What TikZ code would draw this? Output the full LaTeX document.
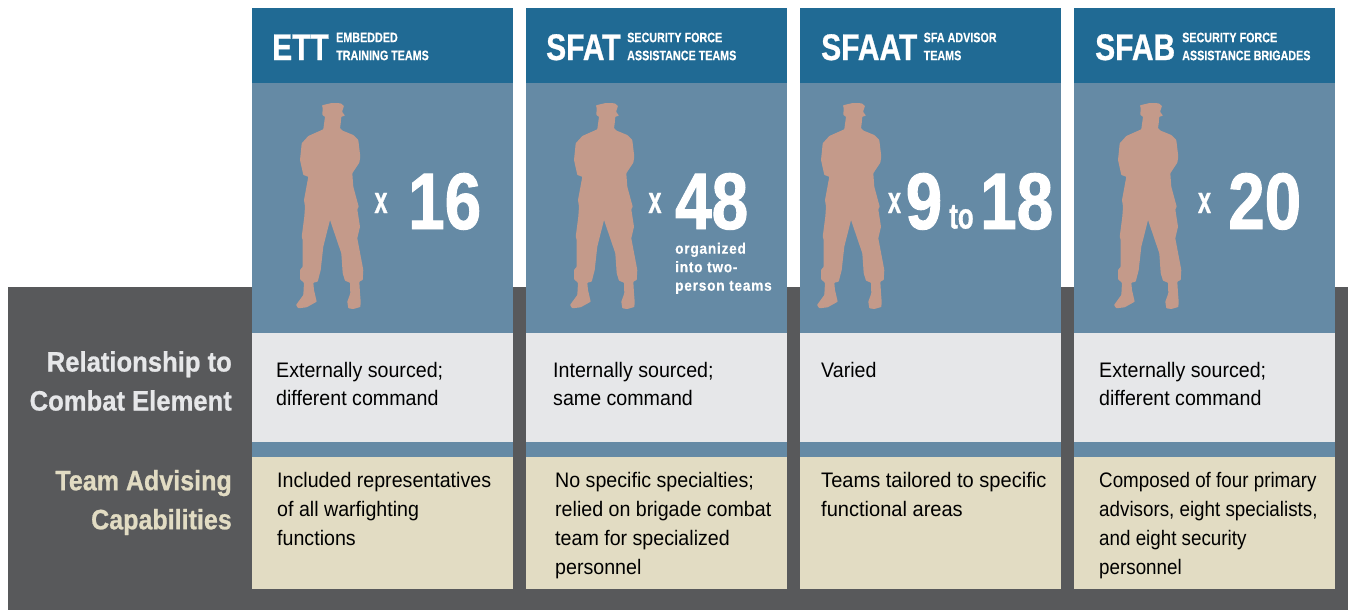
\documentclass[tikz,border=0pt]{standalone}
\usepackage{fontspec}
\setmainfont{Liberation Sans}
\newfontfamily\bodyf[FakeStretch=0.935]{Liberation Sans}
\newfontfamily\bodyn[FakeStretch=0.895]{Liberation Sans}
\newfontfamily\bodyw[FakeStretch=0.955]{Liberation Sans}
\newfontfamily\headf[FakeStretch=0.81,FakeBold=0.8]{Liberation Sans}
\newfontfamily\subf[FakeStretch=0.785,FakeBold=0.3]{Liberation Sans}
\newfontfamily\rowf[FakeStretch=0.915,FakeBold=0.8]{Liberation Sans}
\newfontfamily\rowg[FakeStretch=0.895,FakeBold=0.8]{Liberation Sans}
\newfontfamily\notef[FakeStretch=0.9,LetterSpace=5,FakeBold=0.3]{Liberation Sans}
\newfontfamily\numf[FakeStretch=0.82,FakeBold=1.2]{Liberation Sans}
\newfontfamily\xf[FakeStretch=0.62,FakeBold=0.5]{Liberation Sans}
\newfontfamily\tof[FakeStretch=0.72,FakeBold=0.8]{Liberation Sans}
\definecolor{hdr}{HTML}{206A94}
\definecolor{bodyb}{HTML}{658AA5}
\definecolor{greyb}{HTML}{E6E7E9}
\definecolor{tanb}{HTML}{E2DCC3}
\definecolor{darkb}{HTML}{58595B}
\definecolor{soldierc}{HTML}{C49A8A}
\tikzset{
  box/.style={anchor=north west,inner sep=0pt,outer sep=0pt,minimum width=261pt,text depth=0pt},
  hdrbox/.style={box,fill=hdr,minimum height=75pt},
  bodybox/.style={box,fill=bodyb,minimum height=250pt},
  greybox/.style={box,fill=greyb,minimum height=109pt},
  sepbox/.style={box,fill=bodyb,minimum height=15pt},
  tanbox/.style={box,fill=tanb,minimum height=132pt},
  abbr/.style={anchor=base west,inner sep=0pt,text=white,font=\headf\bfseries\fontsize{37}{37}\selectfont},
  sub/.style={anchor=west,inner sep=0pt,text=white,align=left,font=\subf\bfseries\fontsize{13.7}{18}\selectfont},
  times/.style={anchor=base,inner sep=0pt,text=white,font=\xf\bfseries\fontsize{38}{38}\selectfont},
  num/.style={anchor=base west,inner sep=0pt,text=white,font=\numf\bfseries\fontsize{80}{80}\selectfont},
  towd/.style={anchor=base west,inner sep=0pt,text=white,font=\tof\bfseries\fontsize{36}{36}\selectfont},
  note/.style={anchor=north west,inner sep=0pt,text=white,align=left,font=\notef\bfseries\fontsize{15.2}{18.5}\selectfont},
  txt/.style={anchor=north west,inner sep=0pt,text=black,align=left,font=\bodyf\fontsize{21}{#1}\selectfont},
  rowlab/.style={anchor=east,inner sep=0pt,align=right,font=\rowf\bfseries\fontsize{28}{39}\selectfont}
}
\newcommand{\soldier}[1]{%
  \fill[soldierc,shift={(#1,0)},rounded corners=0.6pt]
  (72,105.3) -- (81.7,103) -- (90.7,103.3) -- (94,106) -- (92,111.7) -- (95,115.7) -- (91.3,116.7) -- (90.7,123.3) -- (90,128.3) -- (92.7,130.7) -- (103.3,135) -- (108.3,140) -- (110.3,156.7) -- (109.3,162.7) -- (102.3,173.3) -- (103.3,186.7) -- (108.7,206.7) -- (107.3,209.3) -- (110,226.7) -- (107.3,238.3) -- (113.3,270) -- (112.7,280) -- (109.3,281.7) -- (110,293) -- (110.7,302) -- (110.3,307) -- (103.3,309) -- (98.3,308.3) -- (97.3,301.7) -- (100.3,293.3) -- (100,282.7) -- (95,280.7) -- (92.7,273.3) -- (91.3,253.3) -- (80,220) -- (73.3,246.7) -- (70.7,270) -- (67.7,281.7) -- (63.3,282.7) -- (64,290) -- (66.7,301.7) -- (56.7,307.3) -- (48.3,308.3) -- (46,305) -- (53.3,295) -- (54,282.7) -- (50,279.3) -- (50,270) -- (52.7,266.7) -- (52.7,240) -- (51.7,236.7) -- (54.3,216.7) -- (55,206.7) -- (54,200) -- (58.3,176.7) -- (53.3,175) -- (50,160) -- (51.7,143.3) -- (58.3,136) -- (73.3,129.3) -- (75,116.7) -- (72.3,115) -- (72.7,108.3) -- cycle;}
\begin{document}
\begin{tikzpicture}[x=1pt,y=-1pt]
\useasboundingbox (0,0) rectangle (1348,610);
\fill[darkb] (8,287) rectangle (1348,610);
\foreach \n/\x in {a/252,b/526,c/800,d/1074}{
  \node[hdrbox] (hdr\n) at (\x,8) {};
  \node[bodybox] (body\n) at (\x,83) {};
  \node[greybox] (grey\n) at (\x,333) {};
  \node[sepbox] (sep\n) at (\x,442) {};
  \node[tanbox] (tan\n) at (\x,457) {};
}
\soldier{250}
\soldier{524}
\soldier{771}
\soldier{1068}
% headers
\node[abbr] (ettt) at (272,60) {ETT};
\node[sub] (etts) at (336,46.5) {EMBEDDED\\TRAINING TEAMS};
\node[abbr] (sfatt) at (546,60) {SFAT};
\node[sub] (sfats) at (627,46.5) {SECURITY FORCE\\ASSISTANCE TEAMS};
\node[abbr] (sfaatt) at (821,60) {SFAAT};
\node[sub] (sfaats) at (923.5,46.5) {SFA ADVISOR\\TEAMS};
\node[abbr] (sfabt) at (1095,60) {SFAB};
\node[sub] (sfabs) at (1182,46.5) {SECURITY FORCE\\ASSISTANCE BRIGADES};
% counts
\node[times] (xa) at (381,213) {x};
\node[num] (na) at (408,229) {16};
\node[times] (xb) at (655,213) {x};
\node[num] (nb) at (675,229) {48};
\node[note] (noteb) at (675,242.5) {organized\\into two-\\person teams};
\node[times] (xc) at (894.5,213) {x};
\node[num] (nc1) at (905.5,229) {9};
\node[towd] (toc) at (949,228.5) {to};
\node[num] (nc2) at (980,229) {18};
\node[times] (xd) at (1204.5,213) {x};
\node[num] (nd) at (1228,229) {20};
% row labels
\node[rowlab,text=greyb] (rl1) at (232,381) {Relationship to\\Combat Element};
\node[rowlab,text=tanb,font=\rowg\bfseries\fontsize{28}{39}\selectfont] (rl2) at (232,502.5) {Team Advising\\Capabilities};
% texts
\node[txt=28] (g1) at (276,362) {Externally sourced;\\different command};
\node[txt=28] (g2) at (553,362) {Internally sourced;\\same command};
\node[txt=28] (g3) at (821,362) {Varied};
\node[txt=28] (g4) at (1099,362) {Externally sourced;\\different command};
\node[txt=28.9] (t1) at (277,472) {Included representatives\\of all warfighting\\functions};
\node[txt=28.9] (t2) at (555,472) {No specific specialties;\\relied on brigade combat\\team for specialized\\personnel};
\node[txt=28.9,font=\bodyw\fontsize{21}{28.9}\selectfont] (t3) at (821,472) {Teams tailored to specific\\functional areas};
\node[txt=28.9,font=\bodyn\fontsize{21}{28.9}\selectfont] (t4) at (1099,472) {Composed of four primary\\advisors, eight specialists,\\and eight security\\personnel};
\end{tikzpicture}
\end{document}
